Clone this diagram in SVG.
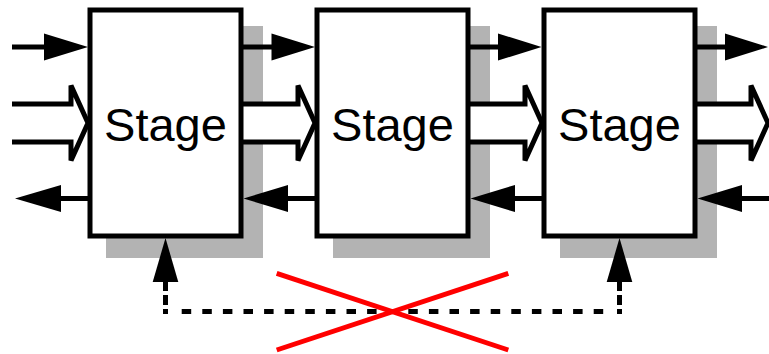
<svg xmlns="http://www.w3.org/2000/svg" width="769" height="354" viewBox="0 0 769 354">
<style>
.shadow{fill:#b3b3b3;stroke:none}
.box{fill:#ffffff;stroke:#000000;stroke-width:5}
.label{font-family:"Liberation Sans",Arial,sans-serif;font-size:47px;fill:#000000;text-anchor:middle}
.line{fill:none;stroke:#000000;stroke-width:5}
.head{fill:#000000;stroke:none}
.hollow{fill:#ffffff;stroke:#000000;stroke-width:5;stroke-linejoin:miter}
.dash{fill:none;stroke:#000000;stroke-width:5}
.cross{fill:none;stroke:#ff0000;stroke-width:5}
</style>
<rect width="769" height="354" fill="#ffffff"/>
<g id="shadows">
<rect class="shadow" x="106" y="26" width="157" height="232"/>
<rect class="shadow" x="333" y="26" width="157" height="232"/>
<rect class="shadow" x="560" y="26" width="157" height="232"/>
</g>
<g id="connectors">
<line class="line" x1="12" y1="47" x2="46" y2="47"/>
<polygon class="head" points="44,33.5 88,47 44,60.5"/>
<line class="line" x1="240" y1="47" x2="273" y2="47"/>
<polygon class="head" points="271.5,33.5 315,47 271.5,60.5"/>
<line class="line" x1="467" y1="47" x2="500" y2="47"/>
<polygon class="head" points="498,33.5 541.5,47 498,60.5"/>
<line class="line" x1="694" y1="47" x2="727" y2="47"/>
<polygon class="head" points="725,33.5 768,47 725,60.5"/>
<path class="hollow" d="M12,104 H71 V85.5 L88,123 L71,160.5 V142 H12"/>
<path class="hollow" d="M243,104 H298 V85.5 L315,123 L298,160.5 V142 H243"/>
<path class="hollow" d="M470,104 H525 V85.5 L542,123 L525,160.5 V142 H470"/>
<path class="hollow" d="M697,104 H751 V85.5 L768,123 L751,160.5 V142 H697"/>
<line class="line" x1="59" y1="198.5" x2="90" y2="198.5"/>
<polygon class="head" points="15,198.5 61,185 61,212"/>
<line class="line" x1="286" y1="198.5" x2="317" y2="198.5"/>
<polygon class="head" points="243.5,198.5 288,185 288,212"/>
<line class="line" x1="513" y1="198.5" x2="544" y2="198.5"/>
<polygon class="head" points="470.5,198.5 515,185 515,212"/>
<line class="line" x1="740" y1="198.5" x2="769" y2="198.5"/>
<polygon class="head" points="697.5,198.5 742,185 742,212"/>
<path class="dash" d="M165.5,281 V314" stroke-dasharray="10 4 10 4 20"/>
<path class="dash" d="M619.5,281 V314" stroke-dasharray="10 4 10 4 20"/>
<path class="dash" d="M181.7,311.5 H603.5" stroke-dasharray="9.5 11.1"/>
<polygon class="head" points="165.5,238 152.7,282 178.3,282"/>
<polygon class="head" points="619.5,238 606.7,282 632.3,282"/>
<line class="cross" x1="276.7" y1="273.3" x2="508.3" y2="350"/>
<line class="cross" x1="276.7" y1="350" x2="508.3" y2="273.3"/>
</g>
<g id="stage1">
<rect class="box" x="90" y="10" width="151" height="226"/>
<text class="label" x="165.5" y="140.5">Stage</text>
</g>
<g id="stage2">
<rect class="box" x="317" y="10" width="151" height="226"/>
<text class="label" x="392.5" y="140.5">Stage</text>
</g>
<g id="stage3">
<rect class="box" x="544" y="10" width="151" height="226"/>
<text class="label" x="619.5" y="140.5">Stage</text>
</g>
</svg>
